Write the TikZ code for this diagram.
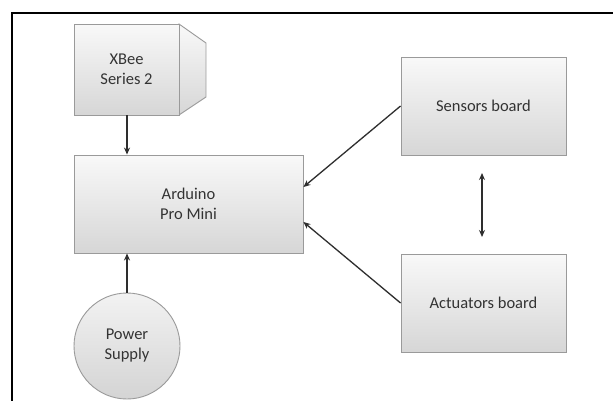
\documentclass[tikz,border=0pt]{standalone}
\usepackage{fontspec}
\setmainfont{Carlito}
\usetikzlibrary{arrows.meta}
\definecolor{bordergray}{HTML}{9A9A9A}
\definecolor{txtgray}{HTML}{333333}
\definecolor{arrgray}{HTML}{2E2E2E}
\tikzset{
  blk/.style={draw=bordergray, line width=0.9pt, top color=gray!5, bottom color=gray!32, font=\fontsize{16.5}{20}\selectfont, text=txtgray, align=center, inner sep=0pt},
  conn/.style={draw=arrgray, line width=1.3pt, -{Stealth[length=7pt,width=6pt]}},
}
\begin{document}
\begin{tikzpicture}[x=1pt,y=-1pt]
\useasboundingbox (0,0) rectangle (613,400);
\fill[white] (0,0) rectangle (613,400);
% frame
\draw[line width=2pt, black] (12,402) -- (12,13) -- (615,13);
% XBee side face
\path[blk] (179,24) -- (206,43) -- (206,97) -- (179,115) -- cycle;
\node[blk, minimum width=105pt, minimum height=91pt] (xbee) at (126.5,69.5) {XBee\\Series 2};
\node[blk, minimum width=229pt, minimum height=98pt] (ard) at (188.5,204) {Arduino\\Pro Mini};
\node[blk, circle, minimum size=106pt, top color=gray!10, bottom color=gray!34] (ps) at (127,346) {Power\\Supply};
\node[blk, minimum width=165pt, minimum height=98pt] (sens) at (483.5,106) {Sensors board};
\node[blk, minimum width=165pt, minimum height=98pt] (act) at (483.5,303) {Actuators board};
\coordinate (dtop) at (482,173);
\coordinate (dbot) at (482,237);
\draw[conn] (xbee.south -| 127,0) -- (ard.north -| 127,0);
\draw[conn] (ps.north) -- (ard.south -| 127,0);
\draw[conn] (sens.west) -- (ard.east |- 0,187);
\draw[conn] (act.west) -- (ard.east |- 0,222);
\draw[conn, {Stealth[length=7pt,width=6pt]}-{Stealth[length=7pt,width=6pt]}] (dtop) -- (dbot);
\end{tikzpicture}
\end{document}
